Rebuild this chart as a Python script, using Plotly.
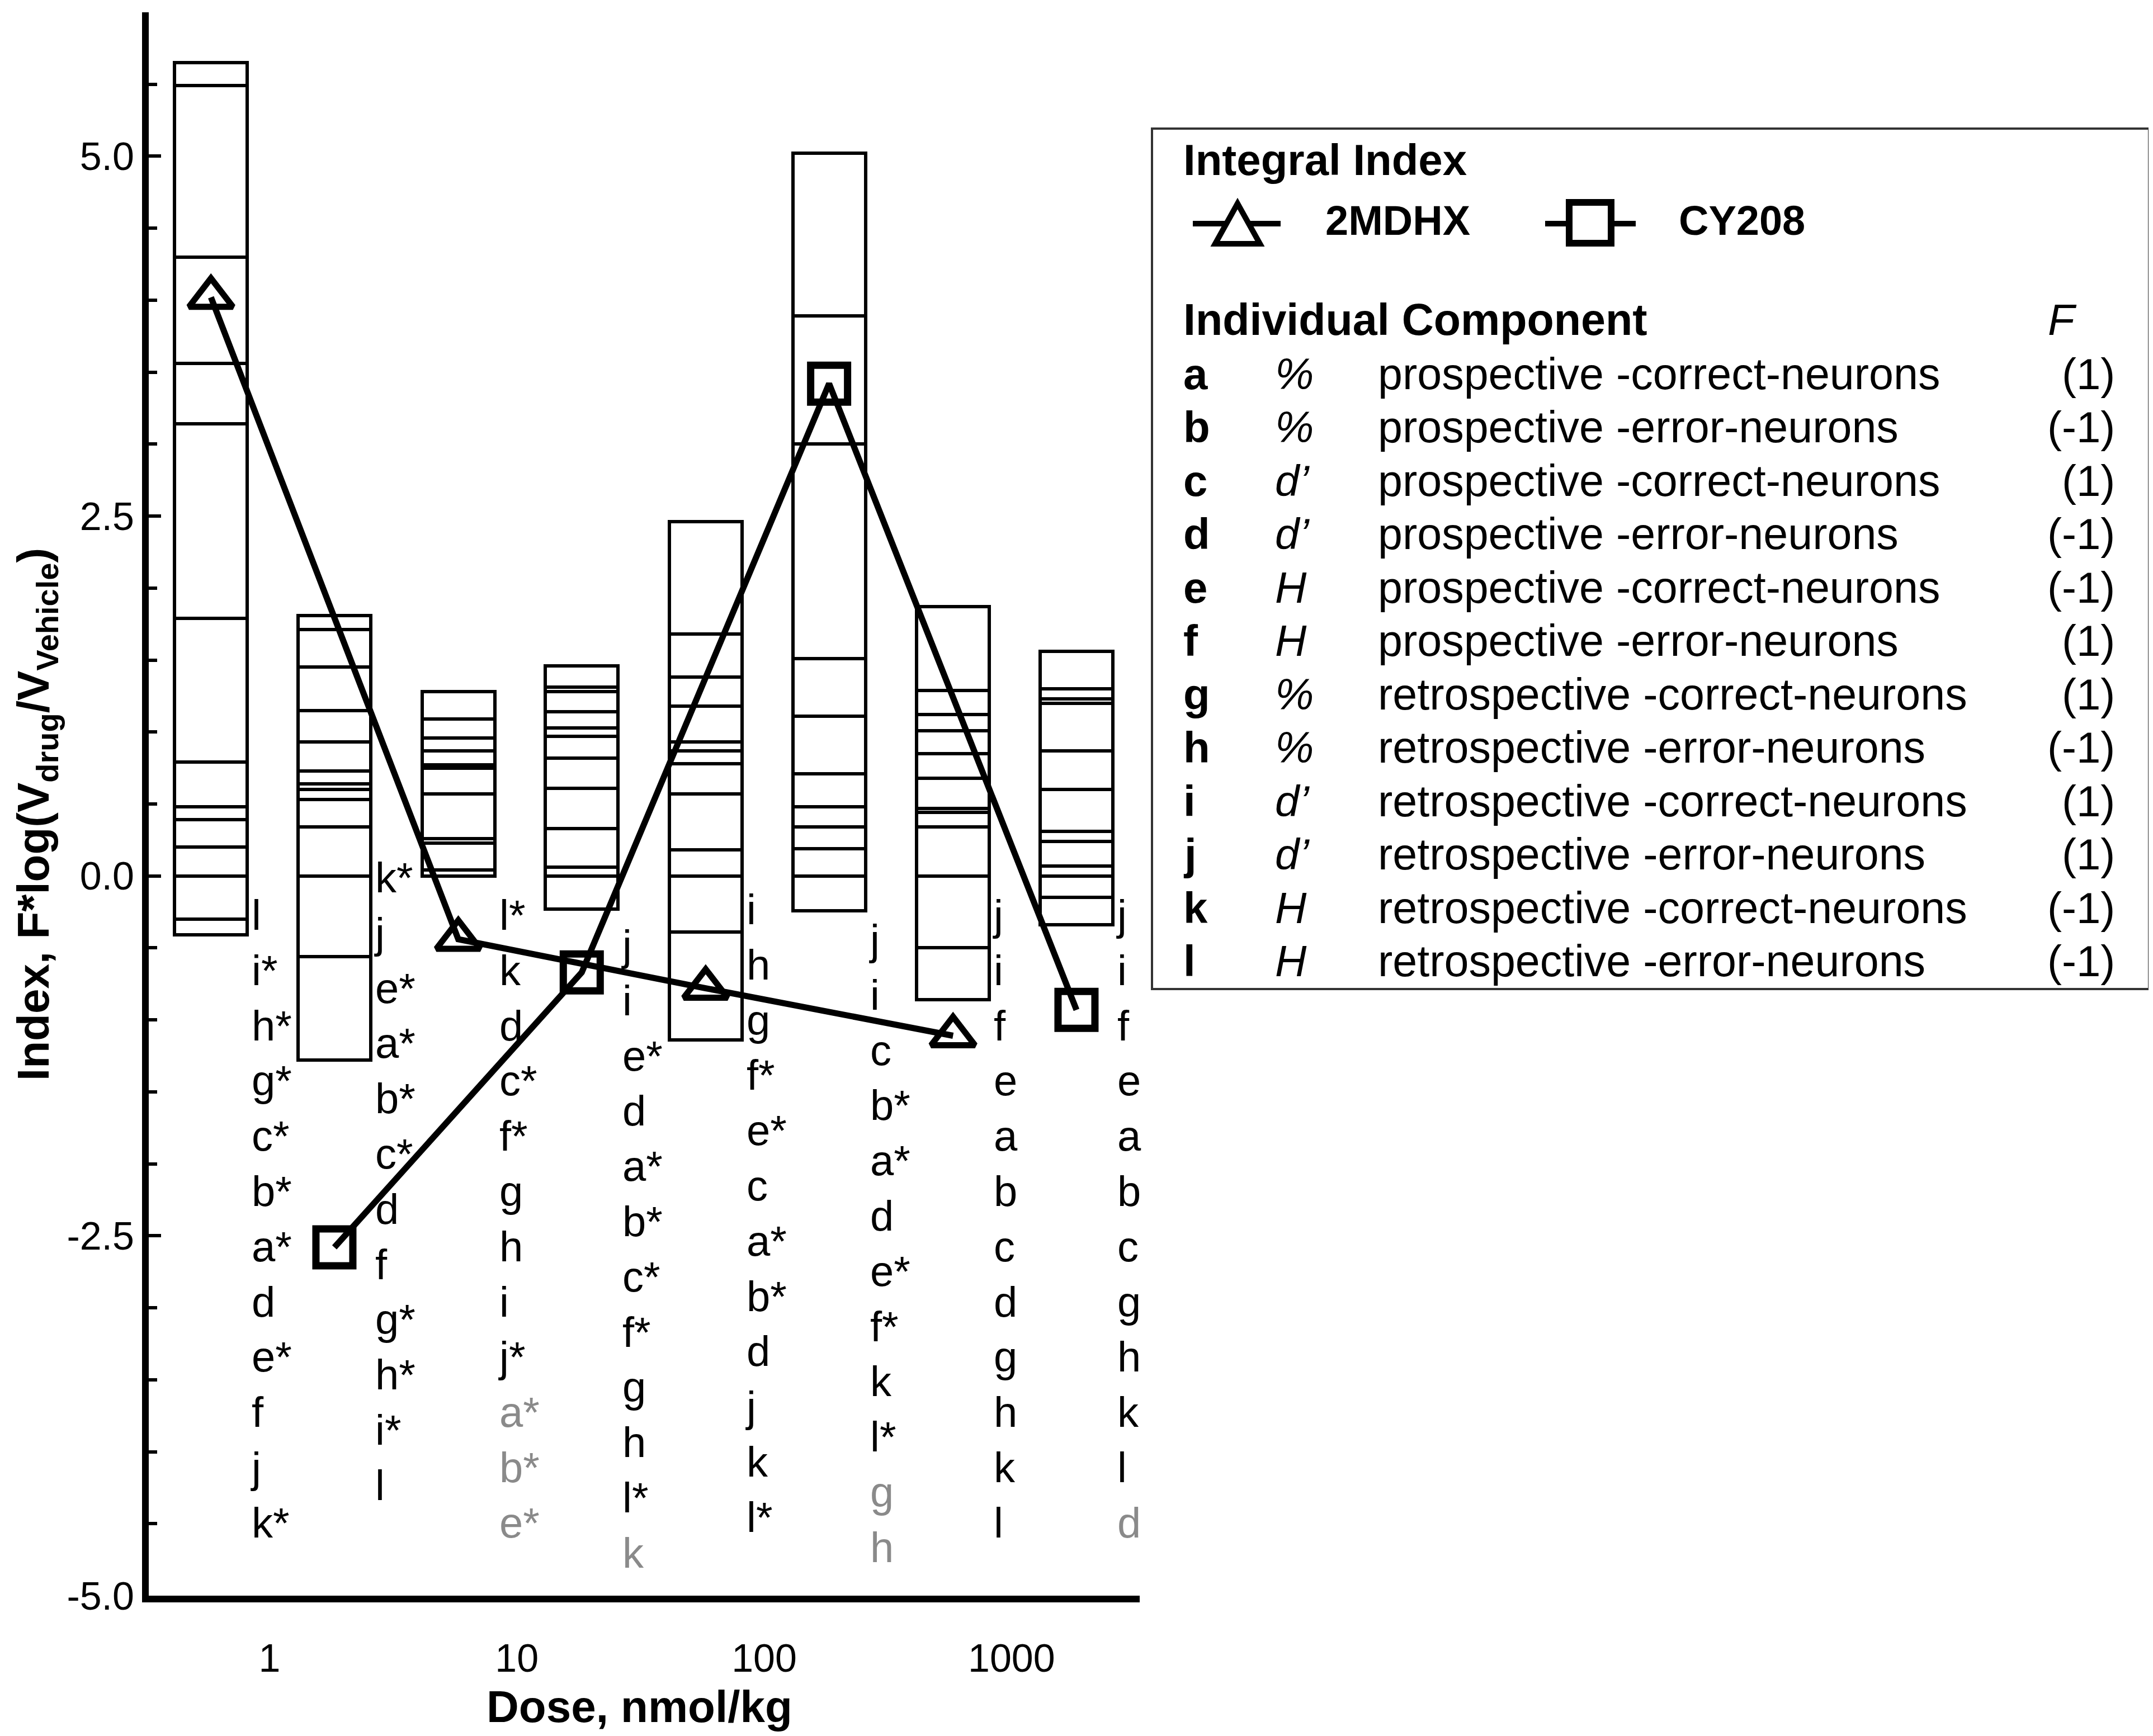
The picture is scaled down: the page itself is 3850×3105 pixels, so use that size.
import numpy as np
import plotly.graph_objects as go

# ---------------- data ----------------
dose_2mdhx = [0.58, 5.8, 58, 580]
index_2mdhx = [4.02, -0.44, -0.78, -1.11]
dose_cy208 = [1.83, 18.3, 183, 1830]
index_cy208 = [-2.58, -0.67, 3.42, -0.93]

# stacked component bars, in dose order (2MDHX / CY208 alternating)
bar_doses = [0.58, 1.83, 5.8, 18.3, 58, 183, 580, 1830]
pos_segments = [
    [0.20, 0.19, 0.09, 0.31, 1.00, 1.35, 0.42, 0.74, 1.19, 0.16],
    [0.34, 0.19, 0.07, 0.04, 0.09, 0.20, 0.22, 0.30, 0.26, 0.10],
    [0.04, 0.19, 0.03, 0.31, 0.18, 0.02, 0.10, 0.09, 0.13, 0.19],
    [0.06, 0.27, 0.28, 0.21, 0.15, 0.06, 0.11, 0.14, 0.03, 0.15],
    [0.18, 0.39, 0.21, 0.09, 0.06, 0.25, 0.20, 0.30, 0.78],
    [0.19, 0.15, 0.14, 0.23, 0.40, 0.40, 1.49, 0.89, 1.13],
    [0.34, 0.10, 0.03, 0.21, 0.17, 0.16, 0.11, 0.17, 0.58],
    [0.07, 0.17, 0.07, 0.29, 0.27, 0.33, 0.03, 0.07, 0.26],
]
neg_segments = [
    [-0.30, -0.11],
    [-0.56, -0.72],
    [],
    [-0.23],
    [-0.39, -0.75],
    [-0.24],
    [-0.50, -0.36],
    [-0.15, -0.19],
]
bar_labels = [
    ["l", "i*", "h*", "g*", "c*", "b*", "a*", "d", "e*", "f", "j", "k*"],
    ["k*", "j", "e*", "a*", "b*", "c*", "d", "f", "g*", "h*", "i*", "l"],
    ["l*", "k", "d", "c*", "f*", "g", "h", "i", "j*", "a*", "b*", "e*"],
    ["j", "i", "e*", "d", "a*", "b*", "c*", "f*", "g", "h", "l*", "k"],
    ["i", "h", "g", "f*", "e*", "c", "a*", "b*", "d", "j", "k", "l*"],
    ["j", "i", "c", "b*", "a*", "d", "e*", "f*", "k", "l*", "g", "h"],
    ["j", "i", "f", "e", "a", "b", "c", "d", "g", "h", "k", "l"],
    ["j", "i", "f", "e", "a", "b", "c", "g", "h", "k", "l", "d"],
]
gray_labels = [[], [], ["a*", "b*", "e*"], ["k"], [], ["g", "h"], [], ["d"]]

comp_letters = ["a", "b", "c", "d", "e", "f", "g", "h", "i", "j", "k", "l"]
comp_measure = ["%", "%", "d’", "d’", "H", "H", "%", "%", "d’", "d’", "H", "H"]
comp_desc = [
    "prospective -correct-neurons", "prospective -error-neurons",
    "prospective -correct-neurons", "prospective -error-neurons",
    "prospective -correct-neurons", "prospective -error-neurons",
    "retrospective -correct-neurons", "retrospective -error-neurons",
    "retrospective -correct-neurons", "retrospective -error-neurons",
    "retrospective -correct-neurons", "retrospective -error-neurons",
]
comp_F = ["(1)", "(-1)", "(1)", "(-1)", "(-1)", "(1)", "(1)", "(-1)", "(1)", "(1)", "(-1)", "(-1)"]

x_tick_vals = [1, 10, 100, 1000]
x_tick_text = ["1", "10", "100", "1000"]
y_tick_vals = [-5, -2.5, 0, 2.5, 5]
y_tick_text = ["-5.0", "-2.5", "0.0", "2.5", "5.0"]

# ---------------- layout helpers ----------------
W, H = 3850, 3105
L, R, T, B = 258, 3840, 14, 2846
FONT = "Liberation Sans, Arial, sans-serif"


def px(x):
    return (x - L) / (R - L)


def py(y):
    return (B - y) / (B - T)


def text_at(fig, text, x, baseline, size, xanchor="left", color="black"):
    fig.add_annotation(text=text, x=px(x), y=py(baseline - 0.44 * size), xref="paper", yref="paper",
                       xanchor=xanchor, yanchor="middle", showarrow=False,
                       font=dict(family=FONT, size=size, color=color))


fig = go.Figure()

# ---------------- stacked bars ----------------
bx = np.log10(bar_doses)
BAR_W = 0.294
bar_style = dict(color="white", line=dict(color="black", width=6))
for k in range(max(len(s) for s in pos_segments)):
    fig.add_trace(go.Bar(x=bx, y=[s[k] if k < len(s) else None for s in pos_segments],
                         width=BAR_W, marker=bar_style, showlegend=False, hoverinfo="skip"))
for k in range(max(len(s) for s in neg_segments)):
    fig.add_trace(go.Bar(x=bx, y=[s[k] if k < len(s) else None for s in neg_segments],
                         width=BAR_W, marker=bar_style, showlegend=False, hoverinfo="skip"))

# ---------------- index lines ----------------
fig.add_trace(go.Scatter(x=np.log10(dose_2mdhx), y=index_2mdhx, mode="lines+markers", name="2MDHX",
                         line=dict(color="black", width=11),
                         marker=dict(symbol="triangle-up-open", size=68, color="black",
                                     line=dict(color="black", width=11)),
                         showlegend=False))
fig.add_trace(go.Scatter(x=np.log10(dose_cy208), y=index_cy208, mode="lines+markers", name="CY208",
                         line=dict(color="black", width=11),
                         marker=dict(symbol="square-open", size=66, color="black",
                                     line=dict(color="black", width=13)),
                         showlegend=False))

# ---------------- component labels beside bars ----------------
LABEL_BASE_Y = [-0.37, -0.11, -0.37, -0.58, -0.33, -0.54, -0.37, -0.37]
LAB_SIZE = 76
for i, labs in enumerate(bar_labels):
    parts = []
    for lab in labs:
        if lab in gray_labels[i]:
            parts.append("<span style='color:#8a8a8a'>%s</span>" % lab)
        else:
            parts.append(lab)
    fig.add_annotation(x=bx[i] + BAR_W / 2, y=LABEL_BASE_Y[i], xref="x", yref="y",
                       text="<br>".join(parts), showarrow=False, xanchor="left", yanchor="top",
                       align="left", xshift=4, yshift=0.905 * LAB_SIZE + 1,
                       font=dict(family=FONT, size=LAB_SIZE, color="black"))

# ---------------- axis titles ----------------
fig.add_annotation(text="<b>Dose, nmol/kg</b>", x=px(1135), y=py(3080 - 0.44 * 80),
                   xref="paper", yref="paper", xanchor="center", yanchor="middle", showarrow=False,
                   font=dict(family=FONT, size=80, color="black"))
fig.add_annotation(text="<b>Index, F*log(V<sub>drug</sub>/V<sub>Vehicle</sub>)</b>",
                   x=px(57), y=py(1449), xref="paper", yref="paper", textangle=-90,
                   xanchor="center", yanchor="middle", showarrow=False,
                   font=dict(family=FONT, size=80, color="black"))

# ---------------- legend box ----------------
shapes = [dict(type="rect", xref="paper", yref="paper", x0=px(2052), x1=px(3835), y0=py(1761), y1=py(222),
               line=dict(color="#333333", width=4), fillcolor="rgba(0,0,0,0)", layer="above")]
# 2MDHX sample
shapes.append(dict(type="line", xref="paper", yref="paper", x0=px(2125), x1=px(2282), y0=py(392), y1=py(392),
                   line=dict(color="black", width=10), layer="above"))
tri = "M %f %f L %f %f L %f %f Z" % (px(2205), py(356), px(2165), py(428), px(2245), py(428))
shapes.append(dict(type="path", xref="paper", yref="paper", path=tri, fillcolor="white",
                   line=dict(color="black", width=10), layer="above"))
# CY208 sample
shapes.append(dict(type="line", xref="paper", yref="paper", x0=px(2755), x1=px(2917), y0=py(392), y1=py(392),
                   line=dict(color="black", width=10), layer="above"))
shapes.append(dict(type="rect", xref="paper", yref="paper", x0=px(2798), x1=px(2873), y0=py(427), y1=py(354),
                   fillcolor="white", line=dict(color="black", width=12), layer="above"))

text_at(fig, "<b>Integral Index</b>", 2106, 312, 78)
text_at(fig, "<b>2MDHX</b>", 2360, 419, 74)
text_at(fig, "<b>CY208</b>", 2992, 419, 74)
text_at(fig, "<b>Individual Component</b>", 2106, 598, 79)
text_at(fig, "<i>F</i>", 3652, 598, 78)

ROW0, ROW_STEP = 695, 95.5
for r in range(len(comp_letters)):
    base = ROW0 + r * ROW_STEP
    text_at(fig, "<b>%s</b>" % comp_letters[r], 2106, base, 78)
    text_at(fig, "<i>%s</i>" % comp_measure[r], 2270, base, 78)
    text_at(fig, comp_desc[r], 2454, base, 79)
    text_at(fig, comp_F[r], 3776, base, 78, xanchor="right")

# ---------------- axes / layout ----------------
fig.update_layout(
    width=W, height=H,
    margin=dict(l=L, r=W - R, t=T, b=H - B, pad=0),
    plot_bgcolor="white", paper_bgcolor="white",
    barmode="relative", bargap=0, showlegend=False,
    shapes=shapes,
    xaxis=dict(domain=[0, px(2030)], range=[-0.488, 3.518],
               tickmode="array", tickvals=np.log10(x_tick_vals), ticktext=x_tick_text,
               ticks="", showline=True, linewidth=12, linecolor="black",
               showgrid=False, zeroline=False, ticklabelstandoff=40,
               tickfont=dict(family=FONT, size=70, color="black")),
    yaxis=dict(domain=[0, 1], range=[-5, 6],
               tickmode="array", tickvals=y_tick_vals, ticktext=y_tick_text,
               ticks="inside", ticklen=22, tickwidth=6, tickcolor="black",
               minor=dict(tickmode="array", tickvals=list(np.arange(-5, 6.01, 0.5)),
                          ticks="inside", ticklen=15, tickwidth=6, tickcolor="black"),
               showline=True, linewidth=12, linecolor="black",
               showgrid=False, zeroline=False,
               tickfont=dict(family=FONT, size=70, color="black")),
)

fig.write_html("out.html")
